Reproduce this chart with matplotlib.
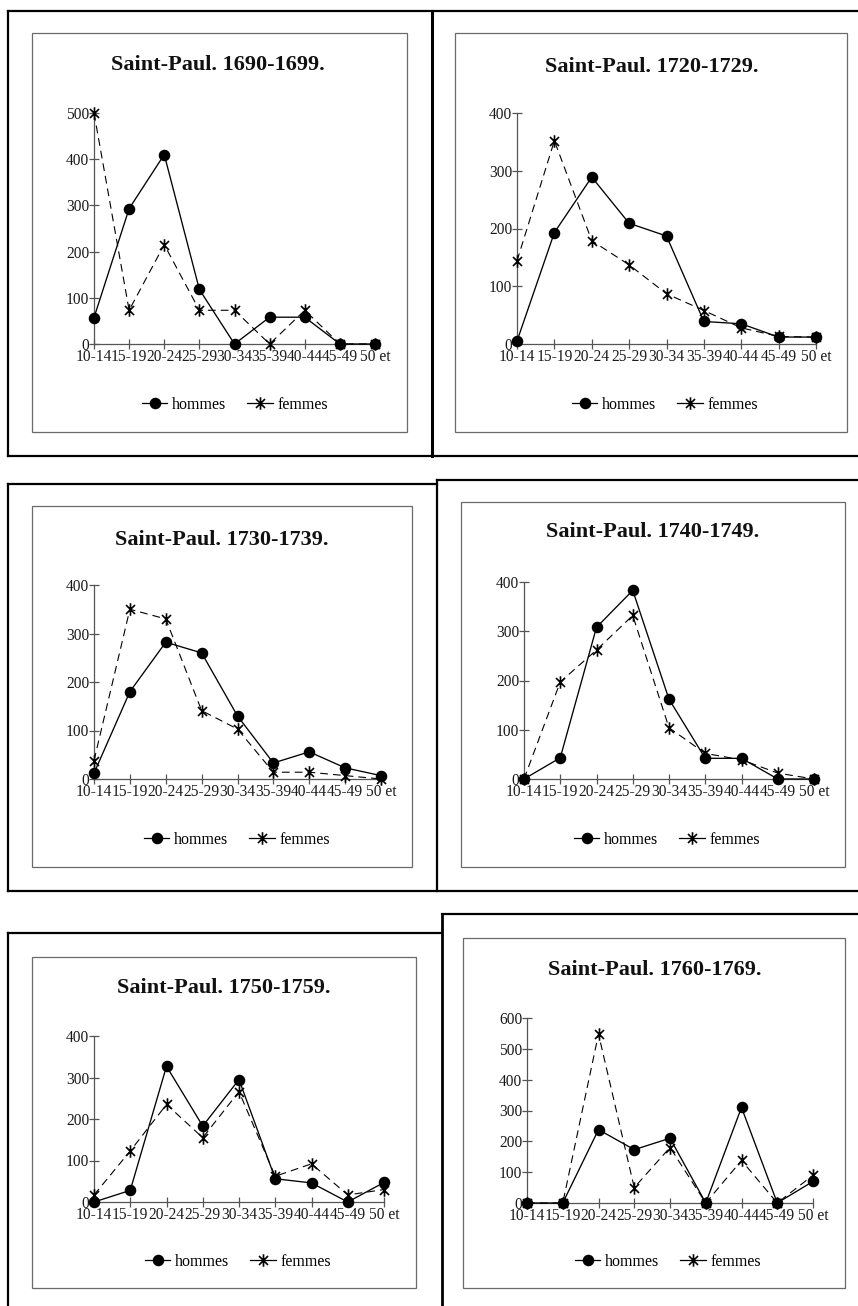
import matplotlib
matplotlib.use("Agg")
import matplotlib.pyplot as plt
from matplotlib.lines import Line2D
from matplotlib.patches import Rectangle
from matplotlib.path import Path

plt.rcParams['font.family'] = ['Liberation Serif', 'DejaVu Serif']

W, H = 858, 1306

# Age groups shared by every panel
age_groups = ["10-14", "15-19", "20-24", "25-29", "30-34",
              "35-39", "40-44", "45-49", "50 et"]

# Saint-Paul, marriages by age group and decade
hommes_1690 = [57, 293, 410, 118, 0, 58, 58, 0, 0]
femmes_1690 = [500, 73, 215, 73, 73, 0, 73, 0, 0]

hommes_1720 = [5, 193, 289, 209, 187, 39, 35, 12, 12]
femmes_1720 = [144, 352, 179, 137, 87, 58, 28, 13, 12]

hommes_1730 = [12, 180, 282, 260, 130, 33, 56, 23, 7]
femmes_1730 = [38, 350, 330, 141, 103, 14, 14, 7, 0]

hommes_1740 = [0, 43, 308, 383, 162, 42, 42, 0, 0]
femmes_1740 = [0, 197, 262, 332, 104, 52, 39, 12, 0]

hommes_1750 = [0, 28, 327, 183, 295, 56, 46, 0, 47]
femmes_1750 = [17, 123, 235, 155, 266, 62, 92, 17, 30]

hommes_1760 = [0, 0, 238, 173, 210, 0, 310, 0, 70]
femmes_1760 = [0, 0, 548, 50, 180, 0, 138, 0, 90]

titles = ["Saint-Paul. 1690-1699.", "Saint-Paul. 1720-1729.",
          "Saint-Paul. 1730-1739.", "Saint-Paul. 1740-1749.",
          "Saint-Paul. 1750-1759.", "Saint-Paul. 1760-1769."]
y_max = [500, 400, 400, 400, 400, 600]
series = [(hommes_1690, femmes_1690), (hommes_1720, femmes_1720),
          (hommes_1730, femmes_1730), (hommes_1740, femmes_1740),
          (hommes_1750, femmes_1750), (hommes_1760, femmes_1760)]

# Layout in pixels: plot area (x0, x1, y_zero, y_top), inner box, title and legend centres
plot_px = [(94, 375, 344, 113), (517, 816, 344, 113),
           (94, 381, 779, 585), (524, 814, 779, 582),
           (94, 384, 1202, 1036), (527, 813, 1203, 1018)]
box_px = [(32, 33, 407, 432), (455, 33, 847, 432),
          (32, 506, 412, 867), (461, 502, 845, 867),
          (32, 957, 416, 1288), (463, 938, 845, 1288)]
title_px = [(218, 65), (652, 67), (222, 540), (653, 532), (224, 988), (655, 970)]
legend_px = [(235, 405), (665, 405), (237, 840), (667, 840), (238, 1262), (668, 1262)]

# Asterisk marker: vertical stroke plus a diagonal cross
d = 0.72
star = Path([(0, -1), (0, 1), (-d, -d), (d, d), (-d, d), (d, -d)],
            [Path.MOVETO, Path.LINETO, Path.MOVETO, Path.LINETO,
             Path.MOVETO, Path.LINETO])

fig = plt.figure(figsize=(W / 100, H / 100), dpi=100)
fig.patch.set_facecolor("white")


def fx(x):
    return x / W


def fy(y):
    return 1 - y / H


def hline(y, x0, x1, lw=1.6):
    fig.add_artist(Line2D([fx(x0), fx(x1)], [fy(y), fy(y)], color="black",
                          lw=lw, solid_capstyle="projecting",
                          transform=fig.transFigure))


def vline(x, y0, y1, lw=1.6):
    fig.add_artist(Line2D([fx(x), fx(x)], [fy(y0), fy(y1)], color="black",
                          lw=lw, solid_capstyle="projecting",
                          transform=fig.transFigure))


# Outer page frames
hline(11, 8, 858)
vline(8, 11, 456)
hline(456, 8, 858)
vline(432, 11, 456, lw=2.2)

hline(484, 8, 437)
hline(480, 437, 858)
vline(8, 484, 891)
vline(437, 480, 891)
hline(891, 8, 858)

hline(933, 8, 442)
vline(8, 933, 1306)
hline(914, 442, 858)
vline(442, 914, 1306, lw=2.0)

x_pos = list(range(len(age_groups)))

for i in range(6):
    bx0, by0, bx1, by1 = box_px[i]
    fig.add_artist(Rectangle((fx(bx0), fy(by1)), fx(bx1) - fx(bx0),
                             fy(by0) - fy(by1), transform=fig.transFigure,
                             fill=False, edgecolor="#6a6a6a", lw=0.9))

    x0, x1, yz, yt = plot_px[i]
    ax = fig.add_axes([fx(x0), fy(yz), fx(x1) - fx(x0), fy(yt) - fy(yz)])
    ax.set_facecolor("none")
    h, f = series[i]
    ax.plot(x_pos, f, color="black", lw=0.8, dashes=(7, 4.5),
            marker=star, markersize=9, markeredgewidth=1.2,
            markeredgecolor="black", clip_on=False, zorder=3, label="femmes")
    ax.plot(x_pos, h, color="black", lw=0.95,
            marker="o", markersize=7.3, markerfacecolor="black",
            markeredgecolor="black", clip_on=False, zorder=4, label="hommes")
    ax.set_xlim(0, 8)
    ax.set_ylim(0, y_max[i])
    ax.set_xticks(x_pos)
    ax.set_xticklabels(age_groups)
    ax.set_yticks(range(0, y_max[i] + 1, 100))
    for s in ("top", "right"):
        ax.spines[s].set_visible(False)
    for s in ("left", "bottom"):
        ax.spines[s].set_color("#555555")
        ax.spines[s].set_linewidth(0.9)
    ax.tick_params(direction="inout", length=7, width=0.9, color="#555555",
                   labelsize=11.2, labelcolor="#1a1a1a", pad=0)

    tx, ty = title_px[i]
    fig.text(fx(tx), fy(ty), titles[i], ha="center", va="center",
             fontsize=16, fontweight="bold", color="#111111")

    hh = Line2D([], [], color="black", lw=0.9, marker="o", markersize=7.3,
                markerfacecolor="black")
    hf = Line2D([], [], color="black", lw=0.9, marker=star, markersize=9,
                markeredgewidth=1.2)
    lx, ly = legend_px[i]
    fig.legend([hh, hf], ["hommes", "femmes"], loc="center",
               bbox_to_anchor=(fx(lx), fy(ly)), ncol=2, frameon=False,
               fontsize=11.5, handlelength=1.6, handletextpad=0.3,
               columnspacing=1.3, numpoints=1, borderpad=0)

fig.savefig("out.png", dpi=100, facecolor="white")
